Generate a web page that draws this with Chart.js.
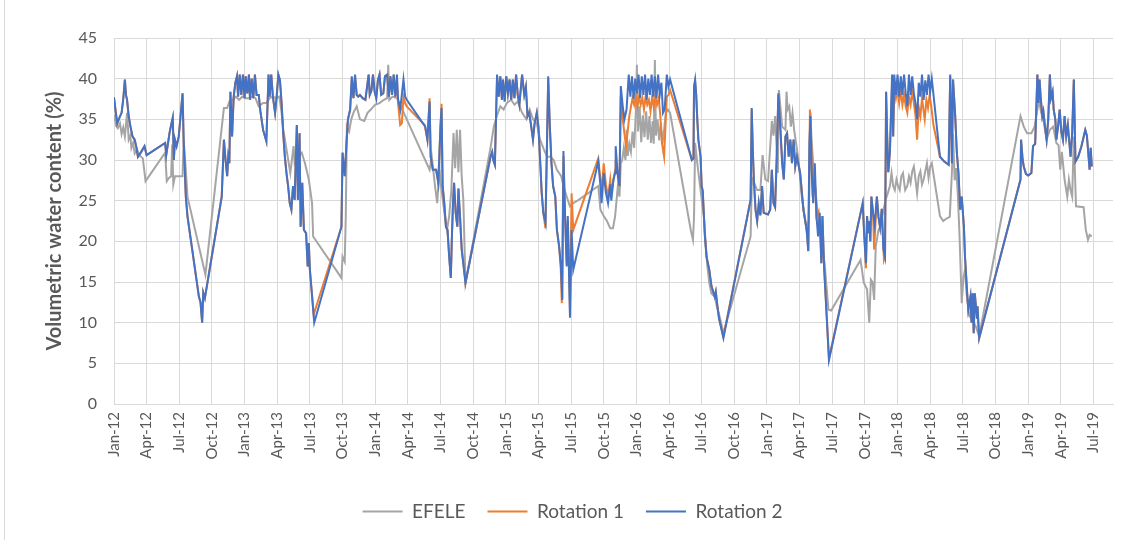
<!DOCTYPE html>
<html>
<head>
<meta charset="utf-8">
<script src="https://cdn.jsdelivr.net/npm/chart.js@4.4.1/dist/chart.umd.min.js"></script>
<style>
  html, body { margin: 0; padding: 0; background: #fff; }
  #wrap { width: 1128px; height: 540px; position: relative; }
  #wrap::before { content: ''; position: absolute; left: 4px; top: 0; width: 1px; height: 540px; background: #d9d9d9; }
</style>
</head>
<body>
<div id="wrap"><canvas id="vwc" width="1128" height="540"></canvas></div>
<script>
// x = months since Jan 2012, y = volumetric water content (%)
const efele = [
  [0.0,35.6],[0.2,34.2],[0.35,33.9],[0.55,34.5],[0.7,33.2],[0.85,34.0],[1.0,32.9],[1.2,35.8],[1.35,32.5],[1.5,33.0],
  [1.6,31.5],[1.75,32.1],[1.9,30.8],[2.1,31.3],[2.4,30.5],[2.65,30.2],[2.9,27.4],[4.7,30.9],[4.85,27.4],[5.05,27.8],
  [5.25,28.0],[5.35,31.9],[5.45,27.0],[5.6,28.0],[6.0,28.0],[6.3,28.0],[6.4,32.5],[6.6,28.8],[6.75,25.5],[8.4,15.9],
  [10.1,36.4],[10.4,36.4],[10.6,37.2],[10.9,37.4],[11.2,37.8],[11.5,37.4],[11.8,37.8],[12.1,37.6],[12.4,37.6],[12.7,37.8],
  [13.0,37.6],[13.3,36.6],[13.7,37.0],[14.0,37.0],[14.3,37.6],[14.6,37.8],[14.9,37.6],[15.2,37.8],[15.4,35.8],[15.56,33.7],
  [15.9,30.9],[16.2,28.4],[16.5,31.7],[16.6,29.6],[16.9,30.4],[17.25,30.9],[17.55,29.6],[17.9,27.6],[18.2,24.7],[18.3,20.6],
  [20.9,15.5],[21.0,18.1],[21.2,17.5],[21.3,23.1],[21.4,34.1],[21.6,33.5],[21.8,35.0],[22.0,35.8],[22.3,36.6],[22.6,35.0],
  [23.0,34.8],[23.3,35.8],[23.6,36.2],[24.0,36.8],[24.4,37.0],[24.8,37.4],[25.1,37.6],[25.2,41.7],[25.3,37.4],[25.6,37.8],
  [26.0,37.6],[26.5,36.2],[29.0,28.8],[29.2,30.4],[29.5,26.8],[29.7,24.7],[29.9,28.8],[30.1,26.3],[30.4,23.1],[30.6,21.4],
  [30.8,23.1],[31.0,26.3],[31.2,33.3],[31.35,29.0],[31.5,33.7],[31.65,28.5],[31.8,33.7],[31.95,28.0],[32.1,25.1],[32.3,14.9],
  [34.6,31.5],[34.9,34.1],[35.2,35.5],[35.5,36.6],[35.8,36.2],[36.1,37.0],[36.5,37.4],[36.8,36.8],[37.1,37.2],[37.5,35.8],
  [37.9,35.0],[38.2,36.2],[38.5,35.0],[38.85,34.5],[39.15,32.5],[39.5,31.3],[39.8,30.4],[40.1,30.4],[40.4,30.0],[40.7,28.8],
  [41.1,28.0],[41.3,26.8],[41.6,25.5],[41.9,24.3],[42.2,24.7],[42.7,25.1],[44.5,26.8],[44.7,23.9],[45.0,23.1],[45.3,22.5],
  [45.6,21.6],[45.85,21.6],[46.05,23.1],[46.3,26.8],[46.45,25.5],[46.57,29.6],[46.7,30.0],[46.85,31.5],[47.0,30.0],[47.1,33.7],
  [47.2,30.5],[47.35,32.0],[47.5,31.0],[47.65,33.5],[47.8,31.5],[47.95,35.8],[48.05,41.7],[48.15,33.5],[48.3,36.6],[48.45,32.2],
  [48.6,35.5],[48.75,32.8],[48.9,36.0],[49.05,32.5],[49.2,35.4],[49.35,32.1],[49.5,34.8],[49.6,32.0],[49.7,42.3],[49.8,33.0],
  [49.95,35.0],[50.1,32.4],[50.25,34.5],[50.4,32.0],[50.55,33.7],[50.7,35.8],[50.9,36.2],[51.1,35.8],[53.0,21.4],[53.2,20.2],
  [53.3,23.0],[53.4,32.1],[53.6,29.6],[53.9,26.3],[54.2,23.1],[54.5,17.3],[54.7,14.9],[54.9,13.6],[55.2,13.2],[55.4,12.0],
  [55.7,10.5],[56.0,8.7],[58.5,20.6],[58.6,26.8],[58.7,27.6],[59.1,26.3],[59.4,26.3],[59.6,30.6],[59.85,27.6],[60.1,27.4],
  [60.45,34.8],[60.6,33.0],[60.75,35.4],[61.0,28.4],[61.1,38.6],[61.4,34.1],[61.7,33.7],[61.8,38.4],[61.9,36.2],[62.05,36.6],
  [62.2,34.1],[62.35,35.8],[62.5,33.7],[62.9,30.0],[63.2,25.5],[63.65,21.4],[63.85,22.5],[64.0,35.8],[64.1,32.5],[64.25,29.6],
  [64.4,27.2],[64.55,25.0],[64.7,23.1],[64.85,21.4],[65.0,19.8],[65.3,17.3],[65.65,11.6],[65.9,11.5],[68.6,17.7],[68.9,14.9],
  [69.2,14.1],[69.4,10.0],[69.55,15.3],[69.7,15.0],[69.85,12.8],[70.0,19.4],[70.25,21.4],[70.5,22.1],[70.6,23.1],[70.9,25.1],
  [71.1,25.9],[71.3,26.8],[71.45,28.4],[71.6,26.8],[71.75,26.3],[71.9,27.6],[72.05,26.8],[72.2,26.3],[72.35,28.0],[72.5,28.4],
  [72.7,26.3],[72.9,26.8],[73.05,28.0],[73.2,27.2],[73.35,28.6],[73.5,29.2],[73.65,27.6],[73.8,25.9],[73.95,28.0],[74.1,28.6],
  [74.25,27.0],[74.4,27.6],[74.55,28.6],[74.7,29.6],[74.85,27.8],[75.0,29.2],[75.15,29.6],[75.9,23.1],[76.2,22.5],[76.5,22.8],
  [76.8,23.0],[77.0,28.6],[77.1,33.3],[77.25,27.5],[77.4,29.0],[77.55,25.5],[77.7,20.6],[77.9,12.4],[78.05,15.5],[78.2,16.5],
  [78.35,13.5],[78.6,10.8],[78.9,10.3],[79.2,9.5],[79.5,8.3],[83.3,35.4],[83.6,34.1],[83.9,33.3],[84.3,33.3],[84.6,34.1],
  [84.9,36.6],[85.0,37.4],[85.2,35.8],[85.4,35.0],[85.7,32.5],[86.0,33.7],[86.3,34.1],[86.6,32.1],[86.8,31.8],[86.95,28.8],
  [87.1,31.0],[87.35,27.6],[87.6,25.5],[87.75,27.6],[87.9,26.3],[88.05,25.5],[88.2,32.9],[88.4,24.3],[89.1,24.2],[89.3,21.4],
  [89.5,20.2],[89.65,20.8],[89.85,20.6]
];

const rotation1 = [
  [0.0,37.7],[0.15,36.0],[0.3,34.5],[0.5,35.2],[0.7,35.8],[0.85,37.5],[1.0,39.9],[1.1,38.0],[1.2,37.4],[1.35,35.4],
  [1.5,34.2],[1.7,32.9],[1.9,32.5],[2.05,31.6],[2.2,30.4],[2.5,31.0],[2.8,31.7],[3.0,30.6],[4.7,32.1],[4.8,30.6],
  [5.1,33.3],[5.25,34.3],[5.4,35.2],[5.5,30.0],[5.6,32.5],[5.75,31.7],[5.95,32.9],[6.3,38.2],[6.4,32.5],[6.6,25.5],
  [6.75,23.1],[7.8,13.2],[7.95,12.5],[8.1,10.0],[8.2,13.7],[8.35,13.0],[9.9,25.5],[10.1,32.5],[10.25,30.0],[10.4,28.0],
  [10.5,30.4],[10.6,29.6],[10.7,38.4],[10.85,32.9],[11.0,37.8],[11.15,39.5],[11.3,40.3],[11.4,37.8],[11.55,40.5],[11.7,38.0],
  [11.85,40.5],[12.0,37.6],[12.1,40.3],[12.25,38.2],[12.4,40.5],[12.5,37.4],[12.65,40.0],[12.8,37.6],[12.95,40.5],[13.1,38.0],
  [13.3,38.0],[13.45,36.0],[13.7,33.7],[14.0,32.3],[14.2,40.5],[14.3,37.8],[14.45,40.5],[14.6,37.8],[14.8,35.8],[14.95,37.8],
  [15.1,40.5],[15.25,39.8],[15.4,37.0],[15.55,33.3],[15.7,30.4],[15.85,28.4],[16.0,26.8],[16.15,24.7],[16.3,23.9],[16.45,26.8],
  [16.6,25.1],[16.8,34.3],[16.9,25.1],[17.05,33.3],[17.15,21.8],[17.3,27.2],[17.45,21.4],[17.65,21.0],[17.8,16.9],[17.9,19.8],
  [18.0,16.5],[18.35,11.0],[20.9,21.8],[21.0,30.9],[21.2,28.0],[21.4,32.9],[21.5,35.0],[21.7,36.2],[21.85,40.0],[22.0,37.6],
  [22.15,40.3],[22.3,38.0],[22.45,37.8],[22.6,38.0],[22.85,37.6],[23.1,37.4],[23.4,40.5],[23.5,38.0],[23.65,38.5],[23.8,40.5],
  [23.95,38.4],[24.1,37.6],[24.25,39.8],[24.4,40.5],[24.55,38.0],[24.75,38.2],[24.9,40.3],[25.1,40.5],[25.25,37.8],[25.4,40.3],
  [25.55,38.0],[25.7,40.5],[25.85,37.8],[26.0,40.0],[26.1,37.0],[26.3,34.3],[26.45,34.5],[26.6,37.8],[26.75,37.0],[26.9,36.6],
  [28.55,34.3],[28.8,32.5],[29.0,37.6],[29.1,30.4],[29.3,28.8],[29.6,28.8],[29.8,27.2],[30.0,34.1],[30.1,36.9],[30.2,26.8],
  [30.35,24.7],[30.5,21.8],[30.65,21.4],[30.8,18.1],[30.95,15.5],[31.05,20.5],[31.15,24.7],[31.25,27.2],[31.4,23.5],[31.55,21.8],
  [31.65,26.5],[31.8,23.0],[31.95,19.0],[32.3,14.9],[34.6,30.4],[34.75,31.0],[34.85,30.0],[35.0,29.4],[35.2,40.3],[35.35,37.8],
  [35.5,40.3],[35.65,37.4],[35.75,39.9],[35.9,37.2],[36.05,40.3],[36.2,38.2],[36.35,39.9],[36.5,37.4],[36.65,39.9],[36.8,37.6],
  [36.95,40.5],[37.1,38.0],[37.25,36.8],[37.5,40.5],[37.7,38.0],[37.85,39.0],[38.0,35.4],[38.15,35.8],[38.3,34.5],[38.5,32.5],
  [38.65,34.5],[38.85,35.8],[39.0,34.1],[39.1,31.5],[39.2,28.8],[39.3,26.0],[39.45,23.5],[39.65,21.6],[39.9,40.0],[40.05,34.1],
  [40.2,29.6],[40.35,26.8],[40.55,25.5],[40.7,21.4],[40.9,19.4],[41.05,16.8],[41.15,12.4],[41.3,30.5],[41.45,23.1],[41.6,17.3],
  [41.7,22.5],[41.9,11.5],[42.05,25.9],[42.2,21.4],[44.5,30.2],[44.7,27.6],[44.8,26.0],[45.0,29.6],[45.2,27.0],[45.4,25.5],
  [45.6,27.6],[45.7,26.0],[45.9,27.6],[46.05,28.8],[46.1,30.0],[46.3,28.2],[46.45,26.8],[46.57,37.8],[46.75,35.0],[46.9,33.3],
  [47.05,31.7],[47.2,33.5],[47.35,35.4],[47.5,36.5],[47.65,37.6],[47.8,36.8],[47.95,37.8],[48.1,36.6],[48.25,37.8],[48.4,36.8],
  [48.55,37.6],[48.7,36.2],[48.85,37.8],[49.0,36.8],[49.15,37.4],[49.3,36.0],[49.45,37.8],[49.6,36.5],[49.75,37.8],[49.9,36.8],
  [50.05,37.6],[50.2,35.5],[50.35,32.1],[50.55,30.4],[50.8,37.8],[50.95,38.0],[51.1,38.6],[53.1,30.0],[53.25,30.2],[53.3,38.8],
  [53.4,39.6],[53.5,38.0],[53.6,35.0],[53.7,32.5],[53.9,30.4],[54.0,26.8],[54.1,26.2],[54.3,20.6],[54.45,18.1],[54.7,16.5],
  [54.9,14.5],[55.2,13.2],[55.3,13.8],[55.45,12.0],[55.6,10.5],[56.0,8.3],[58.5,25.1],[58.6,36.2],[58.7,31.3],[58.8,27.5],
  [58.95,23.9],[59.1,22.5],[59.25,24.7],[59.4,23.2],[59.55,26.8],[59.7,23.5],[60.1,23.3],[60.3,23.9],[60.45,28.8],[60.6,24.7],
  [60.75,24.2],[60.9,30.4],[61.05,38.0],[61.25,33.5],[61.4,29.6],[61.55,27.6],[61.7,32.9],[61.85,33.3],[62.0,30.4],[62.15,32.5],
  [62.3,29.6],[62.45,32.5],[62.6,29.2],[62.75,30.4],[63.05,28.4],[63.35,23.9],[63.65,21.4],[63.8,18.8],[63.95,36.2],[64.05,33.0],
  [64.2,25.5],[64.4,27.6],[64.55,23.1],[64.75,23.7],[64.85,22.5],[65.0,17.3],[65.1,23.1],[65.25,16.9],[65.7,5.6],[68.8,24.7],
  [68.95,20.5],[69.0,19.4],[69.1,16.7],[69.2,23.1],[69.3,21.0],[69.4,22.5],[69.5,20.0],[69.6,25.5],[69.75,23.5],[69.85,19.0],
  [70.1,25.5],[70.25,23.0],[70.4,21.7],[70.55,24.0],[70.75,17.7],[70.85,18.1],[70.95,38.4],[71.05,32.9],[71.15,28.5],[71.3,31.0],
  [71.5,39.5],[71.6,32.9],[71.7,39.0],[71.85,37.6],[72.0,38.8],[72.15,37.0],[72.3,38.6],[72.45,36.8],[72.6,38.0],[72.75,36.6],
  [72.9,35.8],[73.05,37.8],[73.2,36.8],[73.35,38.4],[73.5,37.0],[73.65,35.5],[73.8,32.5],[73.95,36.5],[74.1,35.4],[74.25,37.6],
  [74.4,36.0],[74.5,35.0],[74.65,37.4],[74.8,36.4],[74.95,38.0],[75.1,36.6],[75.3,34.3],[75.9,30.4],[76.3,29.8],[76.7,29.4],
  [76.84,40.3],[77.0,29.6],[77.1,39.9],[77.3,35.4],[77.45,30.9],[77.6,28.4],[77.76,23.9],[77.9,25.5],[78.1,21.8],[78.2,18.1],
  [78.4,13.6],[78.5,11.6],[78.7,13.2],[78.8,10.0],[78.9,13.6],[79.0,8.7],[79.1,13.6],[79.3,10.5],[79.35,12.0],[79.5,8.1],
  [83.3,27.6],[83.35,32.5],[83.5,30.0],[83.6,29.2],[83.8,28.3],[84.0,28.1],[84.3,28.4],[84.45,31.7],[84.65,32.0],[84.85,40.5],
  [84.95,37.0],[85.05,39.9],[85.15,37.8],[85.3,35.4],[85.4,36.0],[85.55,34.1],[85.7,32.5],[85.85,35.0],[86.0,40.5],[86.1,37.6],
  [86.25,38.4],[86.35,36.2],[86.5,35.0],[86.6,32.5],[86.75,34.1],[86.9,36.2],[87.05,33.5],[87.2,32.5],[87.35,35.4],[87.5,32.9],
  [87.65,34.3],[87.9,30.4],[88.05,33.3],[88.2,39.9],[88.35,29.8],[88.6,30.4],[88.9,31.7],[89.25,33.7],[89.4,33.0],[89.55,30.5],
  [89.65,28.8],[89.75,31.5],[89.85,29.2]
];

const rotation2 = [
  [0.0,37.7],[0.15,36.0],[0.3,34.5],[0.5,35.2],[0.7,35.8],[0.85,37.5],[1.0,39.9],[1.1,38.0],[1.2,37.4],[1.35,35.4],
  [1.5,34.2],[1.7,32.9],[1.9,32.5],[2.05,31.6],[2.2,30.4],[2.5,31.0],[2.8,31.7],[3.0,30.6],[4.7,32.1],[4.8,30.6],
  [5.1,33.3],[5.25,34.3],[5.4,35.2],[5.5,30.0],[5.6,32.5],[5.75,31.7],[5.95,32.9],[6.3,38.2],[6.4,32.5],[6.6,25.5],
  [6.75,23.1],[7.8,13.2],[7.95,12.5],[8.1,10.0],[8.2,13.7],[8.35,13.0],[9.9,25.5],[10.1,32.5],[10.25,30.0],[10.4,28.0],
  [10.5,30.4],[10.6,29.6],[10.7,38.4],[10.85,32.9],[11.0,37.8],[11.15,39.5],[11.3,40.3],[11.4,37.8],[11.55,40.5],[11.7,38.0],
  [11.85,40.5],[12.0,37.6],[12.1,40.3],[12.25,38.2],[12.4,40.5],[12.5,37.4],[12.65,40.0],[12.8,37.6],[12.95,40.5],[13.1,38.0],
  [13.3,38.0],[13.45,36.0],[13.7,33.7],[14.0,32.3],[14.2,40.5],[14.3,37.8],[14.45,40.5],[14.6,37.8],[14.8,35.8],[14.95,37.8],
  [15.1,40.5],[15.25,39.8],[15.4,37.0],[15.55,33.3],[15.7,30.4],[15.85,28.4],[16.0,26.8],[16.15,24.7],[16.3,23.9],[16.45,26.8],
  [16.6,25.1],[16.8,34.3],[16.9,25.1],[17.05,33.3],[17.15,21.8],[17.3,27.2],[17.45,21.4],[17.65,21.0],[17.8,16.9],[17.9,19.8],
  [18.0,16.5],[18.4,10.0],[20.9,21.8],[21.0,30.9],[21.2,28.0],[21.4,32.9],[21.5,35.0],[21.7,36.2],[21.85,40.3],[22.0,37.6],
  [22.15,40.5],[22.3,38.0],[22.45,37.8],[22.6,38.0],[22.85,37.6],[23.1,37.4],[23.4,40.5],[23.5,38.0],[23.65,38.5],[23.8,40.5],
  [23.95,38.4],[24.1,37.6],[24.25,39.8],[24.4,40.5],[24.55,38.0],[24.75,38.2],[24.9,40.3],[25.1,40.5],[25.25,37.8],[25.4,40.3],
  [25.55,38.0],[25.7,40.5],[25.85,37.8],[26.0,40.5],[26.1,37.5],[26.3,36.2],[26.6,39.9],[26.75,37.8],[26.9,37.4],[28.6,34.1],
  [28.8,32.5],[29.0,37.2],[29.1,30.4],[29.3,28.8],[29.6,28.8],[29.8,27.2],[30.0,34.1],[30.1,36.4],[30.2,26.8],[30.35,24.7],
  [30.5,21.8],[30.65,21.4],[30.8,18.1],[30.95,15.5],[31.05,20.5],[31.15,24.7],[31.25,27.2],[31.4,23.5],[31.55,21.8],[31.65,26.5],
  [31.8,23.0],[31.95,19.0],[32.3,14.9],[34.6,30.4],[34.75,31.0],[34.85,30.0],[35.0,29.4],[35.2,40.5],[35.35,37.8],[35.5,40.3],
  [35.65,37.4],[35.75,39.9],[35.9,37.2],[36.05,40.3],[36.2,38.2],[36.35,39.9],[36.5,37.4],[36.65,39.9],[36.8,37.6],[36.95,40.5],
  [37.1,38.0],[37.25,36.8],[37.5,40.5],[37.7,38.0],[37.85,39.0],[38.0,35.4],[38.15,35.8],[38.3,34.5],[38.5,32.5],[38.65,34.5],
  [38.85,35.8],[39.0,34.1],[39.1,31.5],[39.2,28.8],[39.3,26.0],[39.45,23.5],[39.65,22.3],[39.9,40.3],[40.05,34.1],[40.2,29.6],
  [40.35,26.8],[40.55,25.5],[40.7,21.4],[40.9,19.4],[41.05,17.3],[41.2,12.8],[41.3,31.1],[41.45,23.1],[41.6,16.9],[41.7,23.1],
  [41.9,10.6],[42.05,21.4],[42.2,16.5],[44.5,29.8],[44.7,26.8],[44.8,24.7],[45.0,28.4],[45.2,26.0],[45.4,24.7],[45.6,27.0],
  [45.7,25.0],[45.9,27.6],[46.05,28.4],[46.1,31.7],[46.3,28.0],[46.45,26.8],[46.57,39.1],[46.75,36.6],[46.9,35.0],[47.1,36.2],
  [47.3,40.5],[47.45,37.8],[47.6,40.3],[47.75,37.5],[47.9,40.0],[48.05,38.2],[48.2,40.5],[48.35,37.6],[48.5,40.3],[48.65,38.0],
  [48.8,40.5],[48.95,37.4],[49.1,40.0],[49.25,38.0],[49.4,40.5],[49.55,37.8],[49.7,40.3],[49.85,37.6],[50.0,40.5],[50.15,38.0],
  [50.3,39.5],[50.45,35.8],[50.6,36.2],[50.8,40.5],[50.95,39.0],[51.1,39.9],[53.1,30.0],[53.25,30.2],[53.3,39.1],[53.4,39.9],
  [53.5,38.0],[53.6,35.0],[53.7,32.5],[53.9,30.4],[54.0,26.8],[54.1,26.2],[54.3,20.6],[54.45,18.1],[54.7,16.5],[54.9,14.5],
  [55.2,13.2],[55.3,13.8],[55.45,12.0],[55.6,10.5],[56.0,8.1],[58.5,25.1],[58.6,36.4],[58.7,31.3],[58.8,27.5],[58.95,23.9],
  [59.1,22.5],[59.25,24.7],[59.4,23.2],[59.55,26.8],[59.7,23.5],[60.1,23.3],[60.3,23.9],[60.45,28.8],[60.6,24.7],[60.75,24.2],
  [60.9,30.4],[61.05,38.2],[61.25,33.5],[61.4,29.6],[61.55,27.6],[61.7,32.9],[61.85,33.3],[62.0,30.4],[62.15,32.5],[62.3,29.6],
  [62.45,32.5],[62.6,29.2],[62.75,30.4],[63.05,28.4],[63.35,23.9],[63.65,21.4],[63.8,18.8],[63.9,32.1],[64.0,35.4],[64.1,28.8],
  [64.25,24.7],[64.4,29.6],[64.55,23.1],[64.7,20.6],[64.85,23.5],[65.0,17.3],[65.1,23.1],[65.25,16.9],[65.7,5.4],[68.8,24.7],
  [68.95,20.5],[69.0,19.4],[69.1,17.3],[69.2,23.1],[69.3,21.0],[69.4,22.5],[69.5,20.0],[69.6,25.5],[69.75,23.5],[69.9,22.0],
  [70.1,25.5],[70.25,23.0],[70.4,21.7],[70.55,24.0],[70.7,19.0],[70.85,18.1],[70.95,38.4],[71.05,32.9],[71.15,28.5],[71.3,31.0],
  [71.5,40.5],[71.6,32.9],[71.7,40.5],[71.85,38.0],[72.0,40.5],[72.15,37.8],[72.3,40.3],[72.45,38.0],[72.6,40.5],[72.75,38.2],
  [72.9,36.6],[73.05,40.5],[73.2,38.0],[73.35,40.3],[73.5,38.2],[73.65,37.0],[73.8,35.0],[73.95,39.5],[74.1,37.8],[74.25,40.5],
  [74.4,37.4],[74.55,39.8],[74.7,38.0],[74.85,40.5],[75.0,38.4],[75.15,40.0],[75.9,30.4],[76.3,29.8],[76.7,29.4],[76.84,40.5],
  [77.0,29.6],[77.1,39.9],[77.3,35.4],[77.45,30.9],[77.6,28.4],[77.76,23.9],[77.9,25.5],[78.1,21.8],[78.2,18.1],[78.4,13.6],
  [78.5,11.6],[78.7,13.2],[78.8,10.0],[78.9,13.6],[79.0,8.7],[79.1,13.6],[79.3,10.5],[79.35,12.0],[79.5,8.1],[83.3,27.6],
  [83.35,32.5],[83.5,30.0],[83.6,29.2],[83.8,28.3],[84.0,28.1],[84.3,28.4],[84.45,31.7],[84.65,32.0],[84.85,40.5],[84.95,37.0],
  [85.05,39.9],[85.15,37.8],[85.3,35.4],[85.4,36.0],[85.55,34.1],[85.7,32.5],[85.85,35.0],[86.0,40.5],[86.1,37.6],[86.25,38.4],
  [86.35,36.2],[86.5,35.0],[86.6,32.5],[86.75,34.1],[86.9,36.2],[87.05,33.5],[87.2,32.5],[87.35,35.4],[87.5,32.9],[87.65,34.3],
  [87.9,30.4],[88.05,33.3],[88.2,39.9],[88.35,29.8],[88.6,30.4],[88.9,31.7],[89.25,33.7],[89.4,33.0],[89.55,30.5],[89.65,28.8],
  [89.75,31.5],[89.85,29.2]
];

const tickMonths = [0,3,6,9,12,15,18,21,24,27,30,33,36,39,42,45,48,51,54,57,60,63,66,69,72,75,78,81,84,87,90];
const tickLabels = ['Jan-12','Apr-12','Jul-12','Oct-12','Jan-13','Apr-13','Jul-13','Oct-13','Jan-14','Apr-14','Jul-14',
  'Oct-14','Jan-15','Apr-15','Jul-15','Oct-15','Jan-16','Apr-16','Jul-16','Oct-16','Jan-17','Apr-17','Jul-17','Oct-17',
  'Jan-18','Apr-18','Jul-18','Oct-18','Jan-19','Apr-19','Jul-19'];

const toPoints = arr => arr.map(p => ({ x: p[0], y: p[1] }));

Chart.defaults.font.family = "Lato, 'Liberation Sans', sans-serif";
Chart.defaults.color = '#595959';

let xAxisHeight = 80;
const gridColor = '#d9d9d9';
const legendShift = 16;

// nudge the legend right, the original is not centred on the canvas
const shiftLegend = {
    id: 'shiftLegend',
    afterLayout(c) {
        c.legend.left += legendShift;
        c.legend.right += legendShift;
    }
};

const chart = new Chart(document.getElementById('vwc'), {
    type: 'line',
    data: {
        datasets: [
            { label: 'EFELE', data: toPoints(efele), borderColor: '#a5a5a5', backgroundColor: '#a5a5a5', order: 3 },
            { label: 'Rotation 1', data: toPoints(rotation1), borderColor: '#ed7d31', backgroundColor: '#ed7d31', order: 2 },
            { label: 'Rotation 2', data: toPoints(rotation2), borderColor: '#4472c4', backgroundColor: '#4472c4', order: 1 }
        ]
    },
    plugins: [shiftLegend],
    options: {
        responsive: false,
        animation: false,
        devicePixelRatio: 1,
        layout: { padding: { top: 38, right: 15, bottom: 9, left: 0 } },
        elements: {
            point: { radius: 0, hoverRadius: 0 },
            line: { borderWidth: 2, tension: 0 }
        },
        scales: {
            x: {
                type: 'linear',
                min: 0,
                max: 91.8,
                afterBuildTicks: axis => { axis.ticks = tickMonths.map(v => ({ value: v })); },
                afterFit: scale => { scale.height = xAxisHeight; },
                ticks: {
                    autoSkip: false,
                    minRotation: 90,
                    maxRotation: 90,
                    padding: 8,
                    font: { size: 15 },
                    callback: (value, index) => tickLabels[index]
                },
                grid: { color: gridColor, drawTicks: false },
                border: { color: gridColor }
            },
            y: {
                min: 0,
                max: 45,
                afterFit: scale => { scale.width = 114; },
                ticks: { stepSize: 5, padding: 17, font: { size: 16 } },
                grid: { color: gridColor, drawTicks: false },
                border: { color: gridColor },
                title: {
                    display: true,
                    text: 'Volumetric water content (%)',
                    font: { size: 20, weight: 'bold' },
                    padding: { top: 43, bottom: 0 }
                }
            }
        },
        plugins: {
            tooltip: { enabled: false },
            legend: {
                position: 'bottom',
                labels: {
                    boxWidth: 40,
                    boxHeight: 2,
                    padding: 22,
                    font: { size: 19 },
                    sort: (a, b) => a.datasetIndex - b.datasetIndex,
                    generateLabels: c => {
                        const items = Chart.defaults.plugins.legend.labels.generateLabels(c);
                        items.forEach(it => { it.fillStyle = it.strokeStyle; it.lineWidth = 0; });
                        return items;
                    }
                }
            }
        }
    }
});

// keep the plot bottom on the 0 line of the original
const diff = chart.chartArea.bottom - 404;
if (Math.abs(diff) > 0.5) {
    xAxisHeight += diff;
    chart.update();
}
</script>
</body>
</html>
